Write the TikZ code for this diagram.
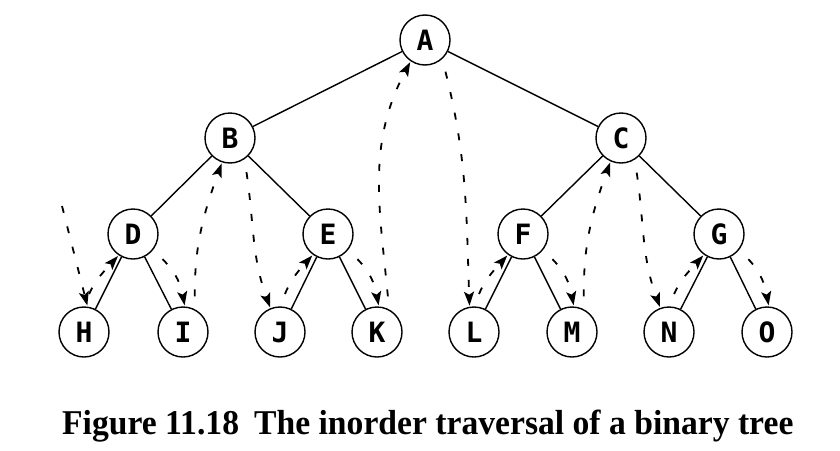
\documentclass[tikz,border=0pt]{standalone}
\usepackage{fontspec}
\usepackage{graphicx}
\setmainfont{Liberation Serif}
\newfontfamily\treefont{DejaVu Sans Mono}
\usetikzlibrary{arrows.meta}
\begin{document}
\begin{tikzpicture}[x=1pt,y=1pt,
  tn/.style={circle,draw,line width=1.4pt,minimum size=50pt,inner sep=0pt,
    font={\treefont\bfseries\fontsize{28}{30}\selectfont}},
  edge/.style={line width=1.4pt},
  trav/.style={line width=1.8pt,dash pattern=on 7pt off 14pt,dash phase=8pt,
    -{Stealth[length=14pt,width=10pt,inset=3pt]},shorten >=1pt}]
\useasboundingbox (0,0) rectangle (840,-450);
\node[tn] (A) at (425,-40) {A};
\node[tn] (B) at (230,-138) {B};
\node[tn] (C) at (621,-138) {C};
\node[tn] (D) at (133,-234) {D};
\node[tn] (E) at (328,-234) {E};
\node[tn] (F) at (523,-234) {F};
\node[tn] (G) at (719,-234) {G};
\node[tn] (H) at (84,-332) {H};
\node[tn] (I) at (183,-332) {I};
\node[tn] (J) at (280,-332) {J};
\node[tn] (K) at (377,-332) {K};
\node[tn] (L) at (474,-332) {L};
\node[tn] (M) at (572,-332) {M};
\node[tn] (N) at (669,-332) {N};
\node[tn] (O) at (767,-332) {O};
\draw[edge] (A) -- (B);
\draw[edge] (A) -- (C);
\draw[edge] (B) -- (D);
\draw[edge] (B) -- (E);
\draw[edge] (C) -- (F);
\draw[edge] (C) -- (G);
\draw[edge] (D) -- (H);
\draw[edge] (D) -- (I);
\draw[edge] (E) -- (J);
\draw[edge] (E) -- (K);
\draw[edge] (F) -- (L);
\draw[edge] (F) -- (M);
\draw[edge] (G) -- (N);
\draw[edge] (G) -- (O);
\coordinate (S) at (62,-206);
\draw[trav,dash phase=0pt] (S) -- (H.82);
\draw[trav] (H.88) to[out=75,in=228] (D.236);
\draw[trav] (D.-40) to[out=-38,in=100] (I.86);
\draw[trav] (I.62) to[out=92,in=250] (B.252);
\draw[trav] (B.-56) to[out=-80,in=110] (J.112);
\draw[trav] (J.88) to[out=75,in=228] (E.234);
\draw[trav] (E.-40) to[out=-38,in=100] (K.86);
\draw[trav] (K.62) to[out=95,in=242] (A.236);
\draw[trav] (A.-48) to[out=-75,in=92] (L.100);
\draw[trav] (L.88) to[out=75,in=228] (F.234);
\draw[trav] (F.-40) to[out=-38,in=100] (M.86);
\draw[trav] (M.62) to[out=92,in=250] (C.246);
\draw[trav] (C.-58) to[out=-80,in=110] (N.110);
\draw[trav] (N.88) to[out=75,in=228] (G.234);
\draw[trav] (G.-40) to[out=-38,in=100] (O.86);
\node[anchor=base west,inner sep=0pt] (cap) at (62,-434)
  {\resizebox{731pt}{24.5pt}{\bfseries Figure 11.18\hspace{0.2em} The inorder traversal of a binary tree}};
\end{tikzpicture}
\end{document}
